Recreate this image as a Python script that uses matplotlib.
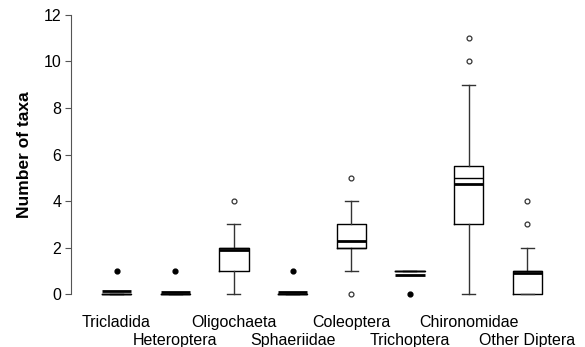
import matplotlib; matplotlib.use('Agg')
import matplotlib.pyplot as plt
import matplotlib.transforms as mtransforms
import numpy as np

plt.rcParams['font.family'] = ['Liberation Sans', 'DejaVu Sans']

taxa = ['Tricladida', 'Heteroptera', 'Oligochaeta', 'Sphaeriidae',
        'Coleoptera', 'Trichoptera', 'Chironomidae', 'Other Diptera']
q1     = [0,    0,    1,   0,   2,   1,   3,    0]
median = [0,    0,    2,   0,   2,   1,   5,    1]
q3     = [0,    0,    2,   0,   3,   1,   5.5,  1]
whislo = [0,    0,    0,   0,   1,   1,   0,    0]
whishi = [0,    0,    3,   0,   4,   1,   9,    2]
means  = [0.15, 0.07, 1.9, 0.1, 2.3, 0.8, 4.75, 0.9]
open_out   = [[], [], [4], [], [5, 0], [], [10, 11], [3, 4]]
filled_out = [[1], [1], [], [1], [], [0], [], []]

stats = []
for i in range(len(taxa)):
    stats.append(dict(label=taxa[i], q1=q1[i], med=median[i], q3=q3[i],
                      whislo=whislo[i], whishi=whishi[i], mean=means[i],
                      fliers=open_out[i]))

fig = plt.figure(figsize=(5.85, 3.47), dpi=100)
ax = fig.add_axes([0.1214, 0.1527, 0.86, 0.8041])
pos = np.arange(1, len(taxa) + 1)
bp = ax.bxp(stats, positions=pos, widths=0.5, showmeans=True, meanline=True,
            boxprops=dict(color='black', lw=1),
            medianprops=dict(color='black', lw=1),
            meanprops=dict(color='black', lw=2, ls='-'),
            whiskerprops=dict(color='#333333', lw=1),
            capprops=dict(color='#333333', lw=1),
            capwidths=0.22,
            flierprops=dict(marker='o', ms=3.5, mfc='white', mec='#333333', mew=0.9))
for k in ['boxes', 'medians', 'means', 'whiskers', 'caps', 'fliers']:
    for a in bp[k]:
        a.set_clip_on(False)

for p, vals in zip(pos, filled_out):
    if vals:
        ax.scatter([p] * len(vals), vals, s=12, color='black', zorder=4, clip_on=False)

ax.set_ylim(0, 12)
ax.set_xlim(0.224, 8.8)
ax.set_yticks(np.arange(0, 13, 2))
ax.tick_params(axis='y', labelsize=11.5, length=4, width=0.8, color='#555555', pad=3)
ax.set_xticks(pos)
ax.set_xticklabels(taxa, fontsize=11.5)
ax.tick_params(axis='x', length=0, pad=15)
# stagger every second category label one row lower
shift = mtransforms.ScaledTranslation(0, -18 / 100, fig.dpi_scale_trans)
for lbl in ax.get_xticklabels()[1::2]:
    lbl.set_transform(lbl.get_transform() + shift)
for s in ['top', 'right', 'bottom']:
    ax.spines[s].set_visible(False)
ax.spines['left'].set_color('#555555')
ax.spines['left'].set_linewidth(0.8)
ax.set_ylabel('Number of taxa', fontsize=12.5, fontweight='bold', labelpad=8)

fig.savefig('out.png', dpi=100)
